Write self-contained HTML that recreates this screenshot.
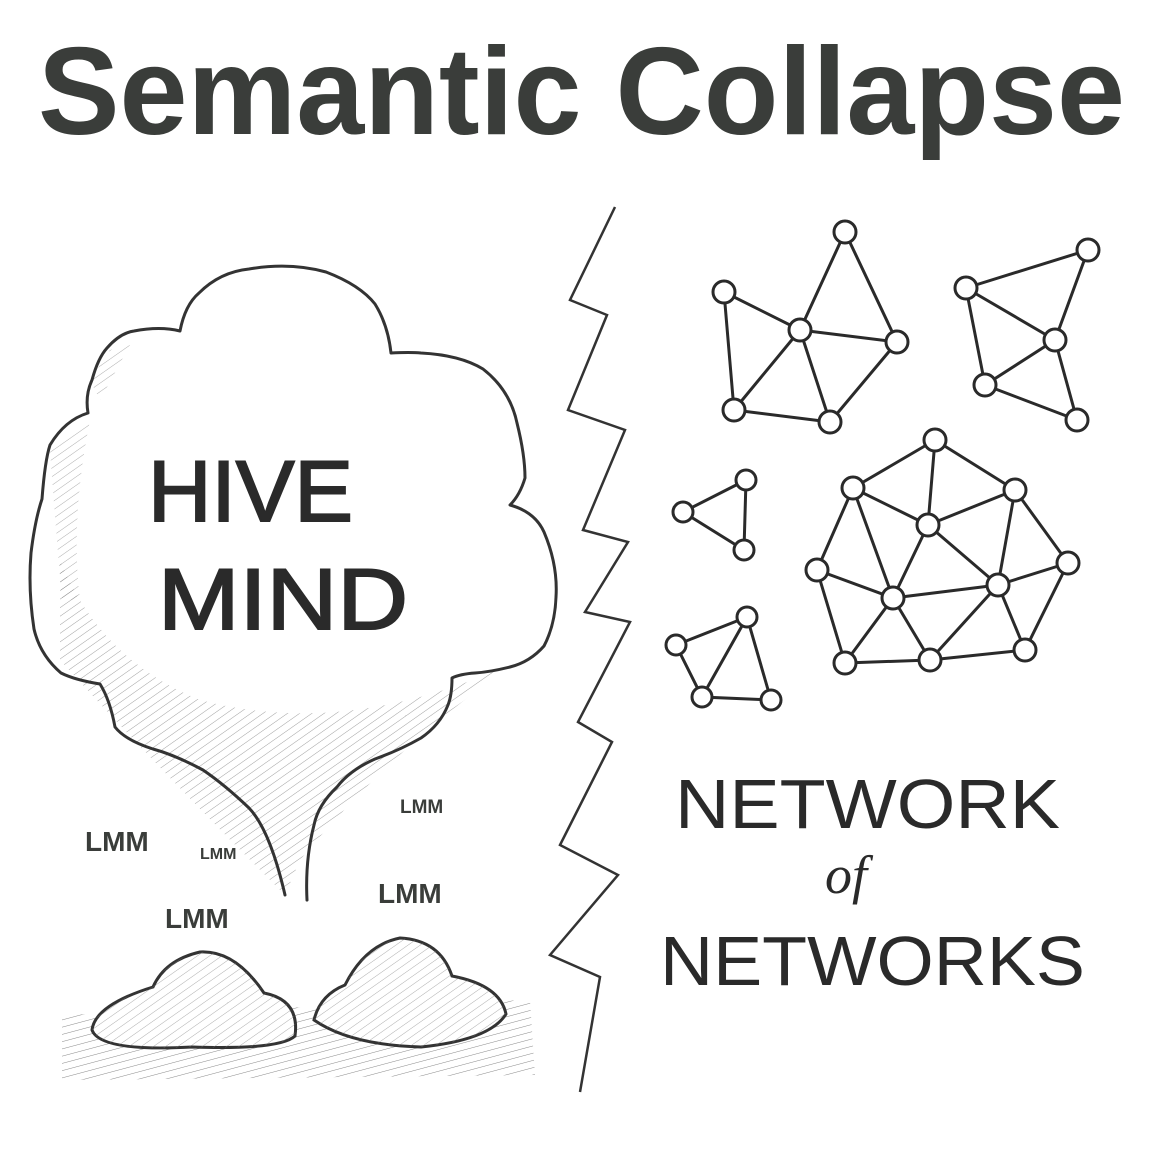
<!DOCTYPE html>
<html><head><meta charset="utf-8"><style>
html,body{margin:0;padding:0;background:#fff;}
svg{display:block}
</style></head><body>
<svg width="1150" height="1150" viewBox="0 0 1150 1150" xmlns="http://www.w3.org/2000/svg">
<defs>
<pattern id="hatch" width="7" height="7" patternUnits="userSpaceOnUse" patternTransform="rotate(-35)">
<line x1="0" y1="0" x2="7" y2="0" stroke="#777" stroke-width="1"/>
</pattern>
<pattern id="hatch2" width="7" height="7" patternUnits="userSpaceOnUse" patternTransform="rotate(-15)">
<line x1="0" y1="0" x2="7" y2="0" stroke="#555" stroke-width="1"/>
</pattern>
</defs>
<rect width="1150" height="1150" fill="#fff"/>
<text x="38" y="134" font-family="Liberation Sans, sans-serif" font-weight="bold" font-size="124" fill="#3a3d3a" textLength="1087" lengthAdjust="spacingAndGlyphs">Semantic Collapse</text>

<path d="M60,660 Q150,760 285,895 L300,860 Q400,740 520,660 Q350,740 200,700 Q100,660 60,560 Z" fill="url(#hatch)" opacity="0.7"/>
<path d="M50,450 Q55,520 62,600 L80,600 Q70,520 90,420 Z" fill="url(#hatch)" opacity="0.6"/>
<path d="M90,380 L110,350 L130,345 L100,400 Z" fill="url(#hatch)" opacity="0.6"/>

<path d="M285,895 Q270,830 249,808 Q225,785 203,770 Q175,755 153,749 Q125,740 115,727 Q110,700 100,684 Q75,680 61,673 Q40,655 34,629 Q28,590 31,553 Q35,520 42,499 Q45,460 50,445 Q65,420 88,413 Q85,395 92,380 Q98,358 107,348 Q120,333 134,331 Q160,326 180,331 Q185,305 199,293 Q220,272 249,269 Q290,262 326,272 Q360,285 375,304 Q388,325 391,353 Q410,352 421,353 Q460,355 483,369 Q510,390 517,423 Q525,455 525,478 Q520,495 510,505 Q535,512 544,532 Q558,565 556,597 Q555,625 544,646 Q530,662 510,667 Q490,672 475,673 Q460,674 452,678 Q452,695 448,705 Q440,725 421,738 Q400,750 375,759 Q350,770 337,787 Q318,805 314,825 Q305,860 307,900" fill="none" stroke="#333" stroke-width="3" stroke-linecap="round" stroke-linejoin="round"/>

<g font-family="Liberation Sans, sans-serif" fill="#2a2a2a">
<text x="148" y="521" font-size="86" textLength="205" lengthAdjust="spacingAndGlyphs" stroke="#2a2a2a" stroke-width="2">HIVE</text>
<text x="158" y="629" font-size="86" textLength="250" lengthAdjust="spacingAndGlyphs" stroke="#2a2a2a" stroke-width="2">MIND</text>
</g>
<g font-family="Liberation Sans, sans-serif" font-weight="bold" fill="#3a3d3a">
<text x="85" y="851" font-size="28">LMM</text>
<text x="200" y="859" font-size="16">LMM</text>
<text x="165" y="928" font-size="28">LMM</text>
<text x="378" y="903" font-size="28">LMM</text>
<text x="400" y="813" font-size="19">LMM</text>
</g>

<path d="M62,1015 L530,1000 L535,1075 L62,1080 Z" fill="url(#hatch2)" opacity="0.7"/>
<path d="M92,1030 Q95,1005 153,987 Q165,960 200,952 Q235,950 264,993 Q300,1000 295,1036 Q280,1050 192,1047 Q100,1052 92,1030 Z" fill="#fff" stroke="#333" stroke-width="3"/>
<path d="M92,1030 Q95,1005 153,987 Q165,960 200,952 Q235,950 264,993 Q300,1000 295,1036 Q280,1050 192,1047 Q100,1052 92,1030 Z" fill="url(#hatch)" opacity="0.6"/>
<path d="M314,1020 Q320,995 345,985 Q365,945 400,938 Q440,940 452,976 Q500,985 506,1014 Q490,1040 421,1047 Q350,1045 314,1020 Z" fill="#fff" stroke="#333" stroke-width="3"/>
<path d="M314,1020 Q320,995 345,985 Q365,945 400,938 Q440,940 452,976 Q500,985 506,1014 Q490,1040 421,1047 Q350,1045 314,1020 Z" fill="url(#hatch)" opacity="0.6"/>

<polyline points="615,207 570,300 607,315 568,410 625,430 583,530 628,542 585,612 630,622 578,722 612,742 560,845 618,875 550,955 600,977 580,1092" fill="none" stroke="#333" stroke-width="2.5" stroke-linejoin="miter"/>

<g stroke="#2a2a2a" stroke-width="3" fill="none">
<path d="M724,292 L800,330 M724,292 L734,410 M845,232 L800,330 M845,232 L897,342 M800,330 L897,342 M800,330 L734,410 M800,330 L830,422 M897,342 L830,422 M734,410 L830,422"/>
<path d="M966,288 L1088,250 M1088,250 L1055,340 M966,288 L1055,340 M966,288 L985,385 M985,385 L1055,340 M1055,340 L1077,420 M985,385 L1077,420"/>
<path d="M746,480 L683,512 L744,550 Z"/>
<path d="M747,617 L676,645 L702,697 L771,700 Z M747,617 L702,697"/>
<path d="M935,440 L853,488 M935,440 L1015,490 M935,440 L928,525 M853,488 L928,525 M1015,490 L928,525 M853,488 L817,570 M853,488 L893,598 M928,525 L893,598 M928,525 L998,585 M1015,490 L998,585 M1015,490 L1068,563 M817,570 L893,598 M893,598 L998,585 M998,585 L1068,563 M817,570 L845,663 M893,598 L845,663 M893,598 L930,660 M998,585 L930,660 M998,585 L1025,650 M1068,563 L1025,650 M845,663 L930,660 L1025,650"/>
</g>
<g stroke="#2a2a2a" stroke-width="3" fill="#fff">
<circle cx="845" cy="232" r="11"/><circle cx="724" cy="292" r="11"/><circle cx="800" cy="330" r="11"/><circle cx="897" cy="342" r="11"/><circle cx="734" cy="410" r="11"/><circle cx="830" cy="422" r="11"/>
<circle cx="1088" cy="250" r="11"/><circle cx="966" cy="288" r="11"/><circle cx="1055" cy="340" r="11"/><circle cx="985" cy="385" r="11"/><circle cx="1077" cy="420" r="11"/>
<circle cx="746" cy="480" r="10"/><circle cx="683" cy="512" r="10"/><circle cx="744" cy="550" r="10"/>
<circle cx="747" cy="617" r="10"/><circle cx="676" cy="645" r="10"/><circle cx="702" cy="697" r="10"/><circle cx="771" cy="700" r="10"/>
<circle cx="935" cy="440" r="11"/><circle cx="853" cy="488" r="11"/><circle cx="1015" cy="490" r="11"/><circle cx="928" cy="525" r="11"/><circle cx="817" cy="570" r="11"/><circle cx="893" cy="598" r="11"/><circle cx="998" cy="585" r="11"/><circle cx="1068" cy="563" r="11"/><circle cx="845" cy="663" r="11"/><circle cx="930" cy="660" r="11"/><circle cx="1025" cy="650" r="11"/>
</g>

<g font-family="Liberation Sans, sans-serif" fill="#2a2a2a">
<text x="675" y="828" font-size="70" textLength="385" lengthAdjust="spacingAndGlyphs">NETWORK</text>
<text x="825" y="893" font-size="54" font-style="italic" font-family="Liberation Serif, serif">of</text>
<text x="660" y="985" font-size="70" textLength="425" lengthAdjust="spacingAndGlyphs">NETWORKS</text>
</g>
</svg>
</body></html>
